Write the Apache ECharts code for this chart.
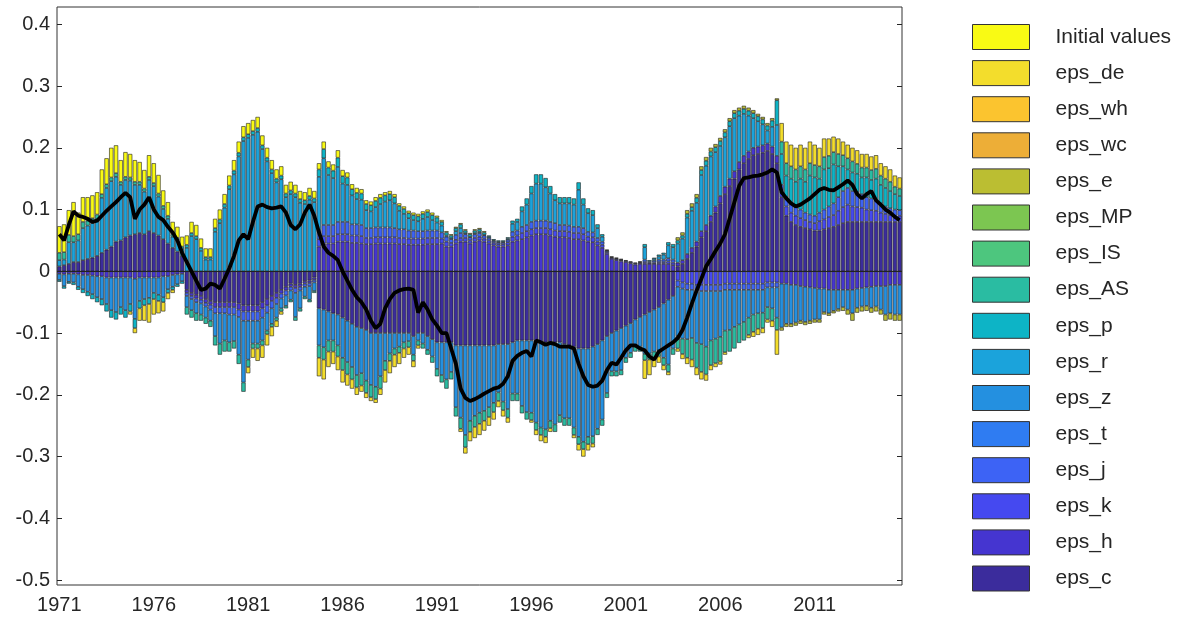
<!DOCTYPE html>
<html><head><meta charset="utf-8">
<script src="https://cdn.jsdelivr.net/npm/echarts@6/dist/echarts.min.js"></script>
<style>html,body{margin:0;padding:0;background:#fff}#c{width:1181px;height:631px}</style>
</head><body><div id="c"></div>
<script>
// ---------- categories / ticks ----------
const startYear = 1971;
const nQuarters = 179; // 1971Q1 .. 2015Q3
const quarters = [];
for (let i = 0; i < nQuarters; i++) quarters.push((startYear + Math.floor(i / 4)) + 'Q' + (i % 4 + 1));
const xTickLabels = ['1971','1976','1981','1986','1991','1996','2001','2006','2011'];
const yTicks = [-0.5,-0.4,-0.3,-0.2,-0.1,0,0.1,0.2,0.3,0.4];

// ---------- shock contributions (quarterly) ----------
const epsC = [
 .008,.01,.012,.015,.015,.018,.02,.022,.025,.03,.035,.04,.048,.05,.055,.058,.06,.062,.06,.065,.062,.058,.052,.045,.038,.032,.025,
 -.03,-.035,-.038,-.04,-.045,-.048,-.05,-.05,-.05,-.05,-.05,-.052,-.055,-.055,-.055,-.055,-.05,-.045,-.04,-.035,-.03,-.025,-.02,-.022,-.02,-.016,-.015,-.01,
 -.06,-.062,-.065,-.068,-.07,-.075,-.08,-.085,-.09,-.092,-.095,-.1,-.1,-.1,-.1,-.1,-.1,-.1,-.1,-.1,-.105,-.1,-.1,-.105,-.11,-.115,-.115,-.115,-.115,-.12,-.12,-.12,-.12,-.12,-.12,-.12,
 -.12,-.12,-.118,-.118,-.118,-.115,-.112,-.112,-.112,-.112,-.115,-.115,-.115,-.115,-.115,-.115,-.118,-.12,-.122,-.125,-.125,-.125,-.122,-.118,-.112,-.105,-.1,-.096,-.092,-.088,-.084,-.078,-.074,-.07,-.066,-.062,-.058,-.052,-.046,-.04,
 .008,.012,.02,.03,.04,.055,.065,.08,.095,.11,.125,.138,.15,.165,.175,.182,.188,.19,.192,.195,.19,.175,
 .12,.09,.08,.075,.072,.07,.068,.066,.066,.068,.07,.072,.075,.078,.08,.08,.08,.08,.08,.08,.08,.08,.08,.08,.08,.08
];
const epsH = [
 -.004,-.005,-.004,-.004,-.005,-.006,-.006,-.007,-.008,-.008,-.01,-.01,-.01,-.01,-.01,-.01,-.012,-.01,-.01,-.01,-.01,-.01,-.008,-.008,-.006,-.005,-.004,
 -.005,-.005,-.006,-.006,-.006,-.006,-.008,-.008,-.008,-.008,-.008,-.01,-.01,-.01,-.01,-.01,-.01,-.01,-.008,-.008,-.006,-.006,-.005,-.005,-.005,-.004,-.004,-.004,
 .04,.045,.045,.045,.048,.048,.048,.046,.046,.045,.044,.044,.045,.045,.045,.045,.045,.044,.044,.043,.043,.043,.043,.044,.044,.044,.045,.04,.04,.045,.048,.048,.045,.048,.05,.048,
 .045,.042,.04,.04,.042,.048,.05,.052,.055,.058,.06,.06,.06,.058,.056,.055,.055,.054,.052,.052,.05,.048,.047,.042,.038,.028,.02,.018,.016,.015,.013,.011,.012,.012,.012,.012,.012,.012,.012,.01,
 .006,.006,.008,.008,.008,.01,.01,.01,.01,.012,.012,.012,.012,.012,.012,.012,.012,.012,.012,.012,.012,.012,
 -.02,-.02,-.022,-.022,-.024,-.025,-.026,-.027,-.028,-.028,-.03,-.03,-.03,-.03,-.03,-.03,-.028,-.027,-.026,-.025,-.024,-.024,-.024,-.022,-.022,-.022
];
const epsK = [
 0,0,0,0,0,0,0,0,0,0,0,0,0,0,0,0,0,0,0,0,0,0,0,0,0,0,0,
 0,0,0,0,0,0,0,0,0,0,0,0,0,0,0,0,0,0,0,0,0,0,0,0,0,0,0,0,
 .012,.012,.012,.012,.012,.012,.012,.012,.012,.012,.01,.01,.01,.01,.01,.01,.01,.01,.01,.01,.01,.01,.01,.01,.01,.01,.008,.008,.006,.006,.006,.006,.005,.006,.006,.005,
 .005,.004,.004,.004,.005,.008,.008,.01,.01,.01,.01,.01,.01,.01,.01,.01,.01,.01,.01,.01,.01,.008,.008,.006,.005,.003,.002,.002,.002,.002,.002,.002,.002,.003,.002,.002,.003,.003,.004,.004,
 -.015,-.018,-.02,-.02,-.022,-.022,-.022,-.022,-.022,-.022,-.02,-.02,-.02,-.02,-.02,-.02,-.02,-.02,-.02,-.018,-.018,-.018,
 .01,.015,.015,.015,.014,.013,.012,.012,.015,.016,.018,.019,.023,.026,.028,.025,.024,.023,.02,.019,.018,.015,.013,.011,.01,.01
];
const epsJ = [
 0,0,0,0,0,0,0,0,0,0,0,0,0,0,0,0,0,0,0,0,0,0,0,0,0,0,0,
 -.005,-.005,-.006,-.006,-.006,-.008,-.01,-.01,-.01,-.012,-.012,-.012,-.015,-.015,-.015,-.015,-.015,-.012,-.012,-.01,-.008,-.008,-.006,-.008,-.006,-.005,-.005,-.004,
 .015,.018,.018,.018,.02,.02,.02,.018,.018,.018,.016,.016,.016,.016,.016,.016,.015,.014,.014,.013,.013,.012,.012,.012,.012,.012,.01,.008,.006,.008,.008,.006,.005,.006,.006,.005,
 .004,.003,.003,.003,.004,.008,.008,.01,.01,.012,.012,.012,.012,.012,.012,.01,.01,.01,.01,.01,.01,.008,.008,.006,.005,.002,.001,.001,.001,.001,.001,.001,.001,.004,.002,.003,.004,.004,.005,.005,
 -.01,-.01,-.01,-.01,-.01,-.01,-.01,-.01,-.01,-.01,-.01,-.01,-.01,-.01,-.01,-.01,-.01,-.01,-.01,-.008,-.008,-.008,
 .01,.015,.015,.015,.014,.012,.012,.012,.014,.016,.017,.019,.022,.026,.027,.025,.024,.022,.02,.019,.017,.015,.012,.011,.01,.009
];
const epsT = [];
const epsZ = [
 -.01,-.019,-.013,-.014,-.02,-.023,-.027,-.03,-.034,-.037,-.043,-.053,-.056,-.048,-.053,-.043,-.065,-.038,-.035,-.033,-.025,-.028,-.034,-.021,-.019,-.016,-.012,
 -.018,-.018,-.018,-.018,-.018,-.018,-.037,-.049,-.044,-.045,-.043,-.061,-.1,-.063,-.037,-.037,-.037,-.029,-.025,-.022,-.016,-.017,-.015,-.039,-.029,-.016,-.022,-.014,
 -.06,-.061,-.047,-.044,-.05,-.065,-.067,-.07,-.078,-.073,-.082,-.084,-.087,-.07,-.045,-.033,-.025,-.022,-.015,-.013,-.03,-.012,-.017,-.022,-.028,-.043,-.053,-.06,-.048,-.1,-.117,-.145,-.122,-.114,-.109,-.106,
 -.1,-.093,-.078,-.093,-.105,-.083,-.086,-.106,-.116,-.117,-.13,-.138,-.141,-.127,-.133,-.118,-.12,-.118,-.131,-.143,-.151,-.143,-.145,-.137,-.128,-.092,-.062,-.066,-.068,-.052,-.048,-.044,-.048,-.064,-.067,-.068,-.07,-.088,-.105,-.085,
 -.08,-.081,-.08,-.078,-.084,-.086,-.09,-.08,-.077,-.074,-.066,-.065,-.06,-.056,-.052,-.045,-.04,-.038,-.037,-.032,-.034,-.049,
 -.071,-.065,-.063,-.061,-.056,-.057,-.054,-.051,-.05,-.038,-.038,-.034,-.031,-.028,-.032,-.038,-.031,-.03,-.03,-.034,-.033,-.038,-.046,-.046,-.048,-.048
];
const epsR = [
 .01,.009,.035,.032,.035,.052,.054,.056,.059,.089,.1,.106,.105,.09,.093,.089,.08,.078,.069,.083,.076,.063,.049,.04,.018,.018,.011,
 .038,.057,.052,.033,.019,.019,.064,.078,.103,.133,.157,.186,.211,.216,.221,.226,.198,.178,.159,.144,.149,.12,.125,.12,.111,.109,.116,.112,
 .086,.108,.081,.076,.089,.062,.06,.047,.041,.041,.029,.027,.033,.038,.042,.044,.04,.03,.025,.02,.017,.016,.02,.022,.017,.013,.011,.002,.002,.006,.008,.002,.001,.002,.002,.001,
 .002,.001,.001,.001,.002,.013,.014,.025,.033,.046,.06,.06,.054,.046,.037,.035,.035,.036,.036,.06,.038,.03,.028,.016,.008,.001,0,0,0,0,0,0,0,.02,0,.003,.005,.008,.021,.02,
 .031,.035,.059,.06,.063,.091,.096,.096,.088,.081,.08,.085,.086,.075,.068,.058,.048,.041,.034,.021,.032,.05,
 0,0,0,0,0,0,0,0,0,0,0,0,0,0,0,0,0,0,0,0,0,0,0,0,0,0
];
const epsP = [
 -.003,-.004,-.003,-.004,-.005,-.006,-.007,-.008,-.008,-.01,-.012,-.012,-.012,-.012,-.012,-.012,-.015,-.012,-.01,-.01,-.01,-.01,-.008,-.006,-.005,-.004,-.004,
 .005,.005,.005,.005,.004,.004,.006,.006,.006,.006,.006,.006,.006,.006,.006,.006,.006,.006,.006,.006,.006,.006,.006,.006,.006,.006,.006,.006,
 .012,.015,.012,.012,.015,.012,.012,.01,.01,.01,.01,.01,.01,.01,.01,.01,.01,.008,.008,.008,.008,.008,.008,.008,.008,.008,.006,.005,.004,.005,.006,.004,.004,.004,.004,.004,
 .002,.002,.002,.002,.002,.005,.005,.008,.01,.012,.015,.015,.015,.012,.01,.01,.01,.01,.01,.012,.01,.008,.008,.006,.004,.001,.001,.001,.001,0,0,0,.001,.005,.002,.002,.003,.003,.005,.005,
 .005,.005,.006,.006,.008,.008,.008,.008,.008,.008,.008,.008,.008,.008,.008,.008,.008,.008,.008,.008,.01,.04,
 .05,.035,.04,.04,.05,.05,.063,.062,.055,.065,.062,.063,.05,.04,.03,.03,.03,.027,.032,.03,.035,.03,.03,.028,.025,.023
];
const epsAS = [
 .012,.012,.012,.01,.01,.01,.008,.008,.008,.006,.006,.006,.006,.005,.005,.005,.005,.005,.005,.005,.005,.005,.005,.005,.004,.004,.004,
 -.012,-.012,-.012,-.01,-.01,-.01,-.015,-.018,-.018,-.015,-.012,-.015,-.015,-.012,-.008,-.008,-.008,-.006,-.005,-.005,-.005,-.004,-.004,-.006,-.005,-.004,-.004,-.003,
 -.02,-.02,-.018,-.018,-.018,-.02,-.02,-.02,-.02,-.02,-.02,-.02,-.02,-.02,-.015,-.012,-.01,-.01,-.01,-.01,-.01,-.008,-.008,-.008,-.01,-.012,-.012,-.015,-.012,-.015,-.018,-.02,-.018,-.018,-.018,-.016,
 -.016,-.015,-.014,-.014,-.014,-.012,-.012,-.012,-.012,-.012,-.012,-.012,-.012,-.012,-.012,-.012,-.012,-.012,-.012,-.012,-.012,-.012,-.012,-.01,-.01,-.008,-.008,-.008,-.008,-.008,-.008,-.008,-.008,-.01,-.01,-.01,-.01,-.012,-.012,-.01,
 -.02,-.025,-.03,-.035,-.04,-.045,-.045,-.04,-.04,-.04,-.035,-.035,-.035,-.03,-.03,-.028,-.028,-.025,-.025,-.02,-.02,-.02,
 .02,.02,.02,.02,.02,.02,.02,.02,.02,.02,.02,.02,.02,.018,.018,.018,.016,.016,.016,.016,.016,.015,.015,.015,.012,.012
];
const epsIS = [];
const epsMP = [];
const epsE = [
 0,0,0,0,0,0,0,0,0,0,
 0,0,0,0,0,0,0,0,0,0,
 0,0,0,0,0,0,0,0,0,0,
 0,0,0,0,0,0,0,0,0,0,
 0,0,0,0,0,0,0,0,0,0,
 0,0,0,0,0,0,0,0,0,0,
 0,0,0,0,0,0,0,0,0,0,
 0,0,0,0,0,0,0,0,0,0,
 0,0,0,0,0,0,0,0,0,0,
 0,0,0,0,0,0,0,0,0,0,
 0,0,0,0,0,0,0,0,0,0,
 0,0,0,0,0,0,0,0,0,0,
 0,0,0,0,0,0,0,0,0,0,
 0,
 .005,.005,.006,.006,.006,.006,.006,.006,.005,.005,.005,.005,.005,.005,.005,.005,.005,.004,.004,.004,.004,.003,
 -.005,-.005,-.005,-.005,-.005,-.005,-.005,-.005,-.005,-.004,-.004,-.004,-.004,-.006,-.008,-.012,-.008,-.008,-.008,-.008,-.008,-.008,-.01,-.01,-.01,-.01
];
const epsWC = [];
const epsWH = [];
const epsDE = [
 0,0,0,0,0,0,0,0,0,0,0,0,0,0,0,-.005,-.008,-.02,-.025,-.03,-.025,-.02,-.015,-.01,-.005,0,0,
 0,0,0,0,0,0,0,0,0,0,0,0,0,-.01,-.015,-.02,-.02,-.018,-.015,-.01,-.005,0,0,0,0,0,0,0,
 -.03,-.032,-.025,-.02,-.022,-.02,-.018,-.015,-.012,-.01,-.008,-.006,-.006,-.01,-.02,-.02,-.02,-.018,-.015,-.012,-.01,-.005,0,0,0,0,0,0,0,0,-.005,-.01,-.015,-.018,-.018,-.016,
 -.014,-.012,-.01,-.01,-.008,0,0,0,0,-.004,-.008,-.01,-.01,-.006,0,0,0,0,-.005,-.01,-.012,-.01,-.006,0,0,0,0,0,0,0,0,0,0,-.03,-.025,-.015,-.01,-.008,-.005,0,
 -.005,-.008,-.01,-.012,-.012,-.012,-.01,-.008,-.006,-.005,-.004,0,0,0,0,-.005,-.008,-.01,-.008,-.005,-.01,-.04,
 .03,.035,.035,.035,.035,.035,.035,.033,.03,.03,.028,.025,.025,.022,.022,.022,.022,.022,.022,.022,.022,.02,.02,.02,.018,.018
];
// initial values: contribution only up to 1993Q3
const epsInit = [
 .043,.045,.04,.055,.035,.04,.038,.037,.036,.04,.042,.048,.045,.035,.04,.038,.035,.032,.03,.035,.032,.03,.025,.022,.02,.018,.016,
 .015,.018,.018,.015,.014,.014,.015,.016,.016,.016,.017,.018,.018,.018,.018,.018,.016,.016,.015,.015,.015,.014,.014,.014,.013,.013,.013,.012,
 .01,.012,.01,.01,.012,.01,.008,.008,.008,.007,.006,.006,.006,.006,.005,.005,.005,.004,.004,.004,.004,.004,.004,.004,.004,.003,.003,.002,.002,.002,.002,.002,.002,.002,.002,.002
];
// observed series (black line)
const observed = [
 .06,.05,.075,.097, .09,.088,.085,.08, .082,.09,.098,.105, .112,.12,.127,.12, .085,.1,.108,.12,
 .1,.088,.083,.072, .063,.05,.03,.015, 0,-.015,-.03,-.028, -.02,-.022,-.028,-.012, .005,.025,.05,.06,
 .052,.08,.105,.108, .104,.102,.103,.105, .095,.075,.068,.076, .095,.108,.09,.063, .04,.03,.025,.018,
 0,-.015,-.03,-.042, -.05,-.062,-.08,-.092, -.085,-.06,-.045,-.035, -.031,-.029,-.028,-.03, -.067,-.05,-.062,-.078,
 -.088,-.1,-.1,-.125, -.15,-.19,-.205,-.21, -.207,-.203,-.198,-.194, -.19,-.188,-.182,-.17, -.145,-.137,-.132,-.129,
 -.138,-.112,-.115,-.119, -.116,-.118,-.122,-.122, -.122,-.125,-.15,-.17, -.184,-.187,-.185,-.177, -.16,-.148,-.151,-.14,
 -.128,-.12,-.12,-.125, -.128,-.138,-.143,-.13, -.125,-.12,-.115,-.108, -.095,-.075,-.052,-.031, -.012,.008,.02,.033,
 .045,.06,.086,.112, .138,.151,.152,.154, .155,.157,.16,.165, .16,.128,.118,.11, .105,.108,.113,.118,
 .125,.132,.135,.132, .131,.136,.141,.147, .14,.125,.118,.125, .13,.115,.108,.1, .095,.088,.083
];

// ---------- series definitions (inner -> outer in stack) ----------
const stackDefs = [
 ['eps_c', epsC, '#3B2C9C'],
 ['eps_h', epsH, '#4535D0'],
 ['eps_k', epsK, '#4549F0'],
 ['eps_j', epsJ, '#3D63F5'],
 ['eps_t', epsT, '#2F7CF2'],
 ['eps_z', epsZ, '#2490E0'],
 ['eps_r', epsR, '#1BA3DB'],
 ['eps_p', epsP, '#0DB4C6'],
 ['eps_AS', epsAS, '#2ABCA2'],
 ['eps_IS', epsIS, '#4DC67E'],
 ['eps_MP', epsMP, '#7CC651'],
 ['eps_e', epsE, '#BBBE32'],
 ['eps_wc', epsWC, '#EDAE37'],
 ['eps_wh', epsWH, '#FBC42F'],
 ['eps_de', epsDE, '#F3DD2C'],
 ['Initial values', epsInit, '#F9FA14']
];
const legendOrder = stackDefs.map(d => d[0]).reverse();
const FONT = "'Liberation Sans', Arial, Helvetica, sans-serif";
const TXT = '#262626';

const series = stackDefs.map(([name, arr, color]) => ({
  name, type: 'bar', stack: 'total', stackStrategy: 'samesign',
  data: arr.map(v => v === 0 ? null : v),
  barCategoryGap: '10%',
  itemStyle: { color, borderColor: '#1e1e1e', borderWidth: 0.6 },
  emphasis: { disabled: true }
}));
series.push({
  name: 'observed', type: 'line', data: observed, symbol: 'none', z: 10,
  lineStyle: { color: '#000', width: 3.8 },
  emphasis: { disabled: true },
  markLine: { silent: true, symbol: 'none', label: { show: false }, animation: false,
    lineStyle: { color: '#222', width: 1, type: 'solid' }, data: [{ yAxis: 0 }] }
});

const yMin = -0.508, yMax = 0.428;
const chart = echarts.init(document.getElementById('c'), null, { renderer: 'canvas' });
chart.setOption({
  animation: false,
  backgroundColor: '#fff',
  grid: { left: 57, right: 279, top: 7, bottom: 46, show: true, borderColor: '#333', borderWidth: 1, backgroundColor: 'transparent' },
  legend: {
    orient: 'vertical', left: 967, top: 19, itemWidth: 57, itemHeight: 25, itemGap: 10.1,
    icon: 'rect', data: legendOrder, selectedMode: false,
    itemStyle: { borderColor: '#333', borderWidth: 1 },
    textStyle: { fontSize: 21, color: TXT, fontFamily: FONT, padding: [0, 0, 0, 21] }
  },
  xAxis: [{
    type: 'category', data: quarters, boundaryGap: true,
    axisLine: { show: false },
    axisTick: { inside: true, alignWithLabel: true, interval: 19, length: 5, lineStyle: { color: TXT } },
    axisLabel: { interval: 19, margin: 10, fontSize: 20, color: TXT, fontFamily: FONT,
      formatter: (v, i) => xTickLabels[Math.round(i / 20)] || '' },
    splitLine: { show: false }
  }, {
    type: 'category', data: quarters, position: 'top', boundaryGap: true,
    axisLine: { show: false }, axisLabel: { show: false },
    axisTick: { inside: true, alignWithLabel: true, interval: 19, length: 5, lineStyle: { color: TXT } },
    splitLine: { show: false }
  }],
  yAxis: [{
    type: 'value', min: yMin, max: yMax,
    axisLine: { show: false },
    axisTick: { show: true, inside: true, length: 5, customValues: yTicks, lineStyle: { color: TXT } },
    axisLabel: { customValues: yTicks, margin: 7, fontSize: 20, color: TXT, fontFamily: FONT,
      formatter: v => String(Math.round(v * 10) / 10) },
    splitLine: { show: false }
  }, {
    type: 'value', min: yMin, max: yMax, position: 'right',
    axisLine: { show: false }, axisLabel: { show: false, customValues: yTicks },
    axisTick: { show: true, inside: true, length: 5, customValues: yTicks, lineStyle: { color: TXT } },
    splitLine: { show: false }
  }],
  series
});

// sanity check of data lengths
const bad = [];
stackDefs.forEach(([n, a]) => { if (a.length && a.length !== nQuarters && n !== 'Initial values') bad.push(n + ':' + a.length); });
if (epsInit.length !== 91) bad.push('init:' + epsInit.length);
if (observed.length !== nQuarters) bad.push('observed:' + observed.length);
if (bad.length) setTimeout(() => { throw new Error('length mismatch ' + bad.join(',')); }, 0);
</script></body></html>
